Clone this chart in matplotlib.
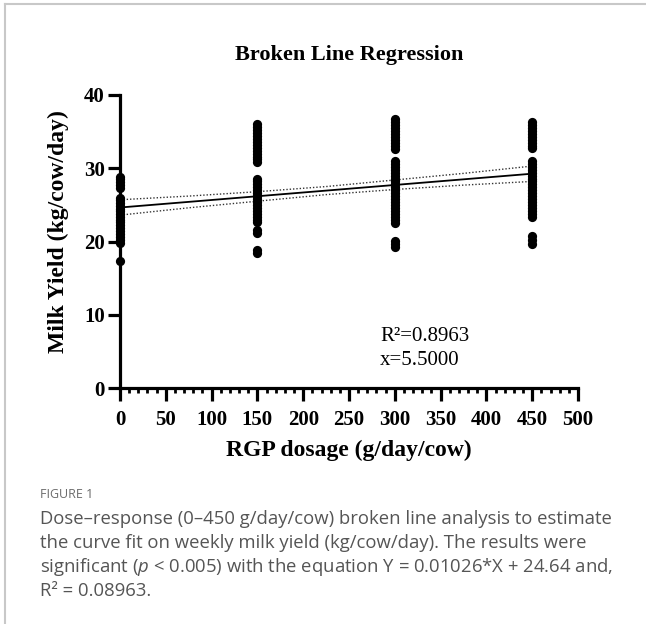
import numpy as np
import matplotlib
matplotlib.use("Agg")
import matplotlib.pyplot as plt
from matplotlib.lines import Line2D

# data
doses = [0, 150, 300, 450]
yield_0 = [28.8, 28.5, 28.1, 27.7, 27.3, 26.0, 25.6, 25.2, 24.9, 24.5, 24.1, 23.8,
           23.4, 23.0, 22.6, 22.2, 21.8, 21.4, 21.0, 20.6, 20.2, 19.8, 17.4]
yield_150 = [36.0, 35.6, 35.2, 34.8, 34.4, 34.0, 33.6, 33.2, 32.8, 32.4, 32.0, 31.6,
             31.2, 30.8, 28.6, 28.2, 27.8, 27.4, 27.0, 26.6, 26.2, 25.8, 25.4, 25.0,
             24.6, 24.2, 23.8, 23.4, 23.0, 22.6, 21.6, 21.2, 18.9, 18.4]
yield_300 = [36.7, 36.3, 35.9, 35.5, 35.1, 34.7, 34.3, 33.9, 33.5, 33.0, 32.6, 31.0,
             30.6, 30.2, 29.8, 29.4, 29.0, 28.6, 28.2, 27.8, 27.4, 27.0, 26.6, 26.2,
             25.8, 25.4, 25.0, 24.6, 24.2, 23.8, 23.4, 23.0, 22.5, 20.1, 19.7, 19.3]
yield_450 = [36.3, 35.9, 35.5, 35.1, 34.7, 34.3, 33.9, 33.5, 33.1, 32.8, 31.0, 30.6,
             30.2, 29.8, 29.4, 29.0, 28.6, 28.2, 27.8, 27.4, 27.0, 26.6, 26.2, 25.8,
             25.4, 25.0, 24.6, 24.2, 23.8, 23.4, 20.8, 20.2, 19.6]
yields = [yield_0, yield_150, yield_300, yield_450]

slope = 0.01026
intercept = 24.64
fit_range = [0, 450]

band_x = [0, 75, 150, 225, 300, 375, 450]
band_upper = [25.7, 26.2, 26.8, 27.5, 28.4, 29.3, 30.3]
band_lower = [23.6, 24.6, 25.5, 26.4, 27.1, 27.7, 28.2]

r2_text = "R\u00b2=0.8963"
x_text = "x=5.5000"

caption_lines = [
    "Dose\u2013response (0\u2013450 g/day/cow) broken line analysis to estimate",
    "the curve fit on weekly milk yield (kg/cow/day). The results were",
    r"significant ($\mathit{p}$ < 0.005) with the equation Y = 0.01026*X + 24.64 and,",
    "R\u00b2 = 0.08963.",
]

W, H = 646, 624
plt.rcParams["mathtext.fontset"] = "custom"
plt.rcParams["mathtext.rm"] = "Open Sans"
plt.rcParams["mathtext.it"] = "Open Sans:italic"

fig = plt.figure(figsize=(W / 100, H / 100), dpi=100)
fig.patch.set_facecolor("white")


def fx(px):
    return px / W


def fy(py):
    return 1 - py / H


# light frame (top and left only)
fig.add_artist(Line2D([fx(5), 1], [fy(4), fy(4)], color="#c8c8c8", lw=1.5))
fig.add_artist(Line2D([fx(5), fx(5)], [fy(4), 0], color="#c8c8c8", lw=1.5))

ax = fig.add_axes([fx(120), fy(388), (578 - 120) / W, (388 - 95) / H])
serif = "Liberation Serif"

for d, ys in zip(doses, yields):
    ax.scatter([d] * len(ys), ys, s=44, color="black", zorder=4, clip_on=False,
               linewidths=0)

xs = np.array(fit_range)
ax.plot(xs, slope * xs + intercept, color="black", lw=1.3, zorder=3)
ax.plot(band_x, band_upper, color="#333333", lw=1.0, ls=(0, (1, 1.4)), zorder=3)
ax.plot(band_x, band_lower, color="#333333", lw=1.0, ls=(0, (1, 1.4)), zorder=3)

ax.set_xlim(0, 500)
ax.set_ylim(0, 40)
ax.set_xticks(np.arange(0, 501, 50))
ax.set_xticks(np.arange(0, 501, 10), minor=True)
ax.set_yticks(np.arange(0, 41, 10))

for s in ["top", "right"]:
    ax.spines[s].set_visible(False)
for s in ["left", "bottom"]:
    ax.spines[s].set_linewidth(2.3)

ax.tick_params(axis="both", which="major", direction="out", length=9, width=2.3,
               labelsize=15)
ax.tick_params(axis="x", which="minor", direction="out", length=3.8, width=2.0)
ax.tick_params(axis="x", which="major", pad=7)
ax.tick_params(axis="y", which="major", pad=2)
for lab in ax.get_xticklabels() + ax.get_yticklabels():
    lab.set_fontfamily(serif)
    lab.set_fontweight("bold")

ax.text(284, 7.0, r2_text, family=serif, fontsize=15, va="center", ha="left")
ax.text(284, 3.8, x_text, family=serif, fontsize=15, va="center", ha="left")

fig.text(fx(349), fy(55), "Broken Line Regression", family=serif, weight="bold",
         fontsize=16, ha="center", va="center")
fig.text(fx(349), fy(450), "RGP dosage (g/day/cow)", family=serif, weight="bold",
         fontsize=17, ha="center", va="center")
fig.text(fx(58), fy(232), "Milk Yield (kg/cow/day)", family=serif, weight="bold",
         fontsize=17, ha="center", va="center", rotation=90)

fig.text(fx(40), fy(495), "FIGURE 1", family="Open Sans", fontsize=9,
         color="#6b6b6b", ha="left", va="center")
for i, line in enumerate(caption_lines):
    fig.text(fx(40), fy(519 + 24 * i), line, family="Open Sans", fontsize=13.3,
             color="#555555", ha="left", va="center")

fig.savefig("out.png", dpi=100, facecolor="white")
